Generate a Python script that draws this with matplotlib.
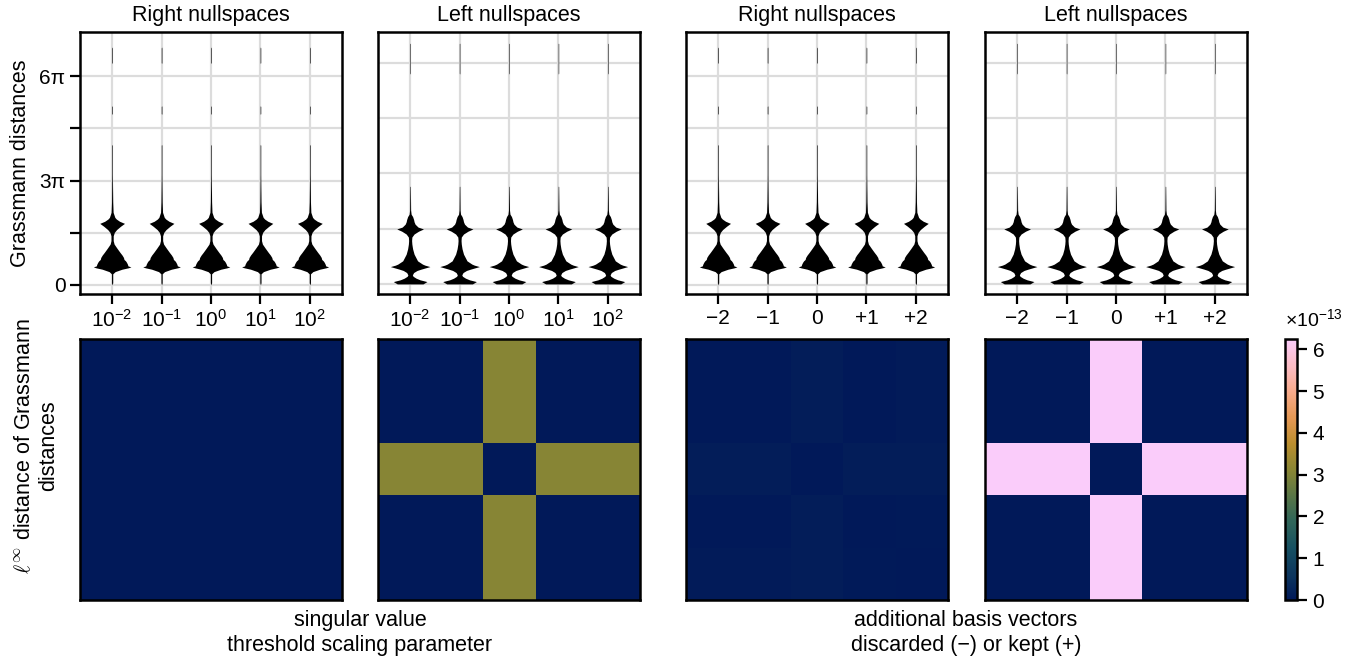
import numpy as np
import matplotlib
matplotlib.use("Agg")
import matplotlib.pyplot as plt
from matplotlib.colors import LinearSegmentedColormap
from matplotlib.ticker import ScalarFormatter
from matplotlib.transforms import ScaledTranslation

plt.rcParams["font.family"] = ["Liberation Sans", "DejaVu Sans"]
plt.rcParams["mathtext.fontset"] = "custom"
plt.rcParams["mathtext.rm"] = "Liberation Sans"
plt.rcParams["mathtext.it"] = "Liberation Sans:italic"
plt.rcParams["mathtext.bf"] = "Liberation Sans:bold"
plt.rcParams["font.size"] = 15

thresh_labels = [r"$10^{-2}$", r"$10^{-1}$", r"$10^{0}$", r"$10^{1}$", r"$10^{2}$"]
basis_labels = ["\u22122", "\u22121", "0", "+1", "+2"]

# violin outlines: distance value -> half width
right_y = [0.0, 0.2, 1.0, 1.2, 1.42, 1.55, 1.63, 1.72, 1.87, 2.05, 2.18, 2.3, 2.48,
           2.7, 2.93, 3.3, 3.69, 4.0, 4.44, 4.75, 5.0, 5.3, 5.56, 5.75, 5.95, 6.1,
           6.56, 7.5, 9.0, 10.0, 12.6, 12.7, 15.4, 15.5, 16.1, 16.2, 20.0, 20.1,
           21.4, 21.5]
right_w = [0.0, 0.012, 0.012, 0.06, 0.2, 0.33, 0.38, 0.32, 0.31, 0.29, 0.27, 0.24,
           0.23, 0.2, 0.16, 0.1, 0.04, 0.022, 0.022, 0.045, 0.09, 0.17, 0.25, 0.15,
           0.085, 0.055, 0.02, 0.012, 0.008, 0.006, 0.006, 0.0, 0.0, 0.006, 0.006,
           0.0, 0.0, 0.006, 0.006, 0.0]

left_y = [0.0, 0.2, 0.35, 0.49, 0.65, 0.77, 0.97, 1.15, 1.26, 1.48, 1.6, 1.69,
          1.97, 2.54, 3.0, 3.4, 3.7, 4.0, 4.26, 4.5, 4.69, 4.85, 5.1, 5.3, 5.5,
          5.75, 5.95, 6.3, 7.5, 8.3, 8.35, 17.9, 18.0, 20.5, 20.55]
left_w = [0.26, 0.34, 0.2, 0.12, 0.06, 0.045, 0.07, 0.14, 0.22, 0.4, 0.3, 0.25,
          0.15, 0.08, 0.05, 0.035, 0.03, 0.035, 0.08, 0.17, 0.27, 0.16, 0.1, 0.08,
          0.07, 0.05, 0.02, 0.01, 0.007, 0.005, 0.0, 0.0, 0.005, 0.005, 0.0]

# l-inf distances between the runs, in units of 1e-13
hm_right_thresh = [[0.02, 0.01, 0.01, 0.01, 0.01],
                   [0.01, 0.00, 0.01, 0.02, 0.01],
                   [0.01, 0.01, 0.00, 0.01, 0.01],
                   [0.01, 0.02, 0.01, 0.00, 0.01],
                   [0.01, 0.01, 0.01, 0.01, 0.00]]
hm_left_thresh = [[0.0, 0.0, 3.1, 0.0, 0.0],
                  [0.0, 0.0, 3.1, 0.0, 0.0],
                  [3.1, 3.1, 0.0, 3.1, 3.1],
                  [0.0, 0.0, 3.1, 0.0, 0.0],
                  [0.0, 0.0, 3.1, 0.0, 0.0]]
hm_right_basis = [[0.00, 0.005, 0.12, 0.01, 0.05],
                  [0.005, 0.00, 0.12, 0.01, 0.05],
                  [0.12, 0.12, 0.00, 0.12, 0.12],
                  [0.01, 0.01, 0.12, 0.00, 0.04],
                  [0.05, 0.05, 0.12, 0.04, 0.00]]
hm_left_basis = [[0.0, 0.0, 6.25, 0.0, 0.0],
                 [0.0, 0.0, 6.25, 0.0, 0.0],
                 [6.25, 6.25, 0.0, 6.25, 6.25],
                 [0.0, 0.0, 6.25, 0.0, 0.0],
                 [0.0, 0.0, 6.25, 0.0, 0.0]]
hm_scale = 1e-13
hm_vmax = 6.25e-13

batlow = LinearSegmentedColormap.from_list("batlow", [
    "#011959", "#0E385E", "#175162", "#30665A", "#5A7646", "#8A8634",
    "#BB8E2E", "#E59855", "#F8AB8C", "#FCBDC6", "#FACCFA"])

W, H = 1367, 663
fig = plt.figure(figsize=(W / 100, H / 100), dpi=100)

lefts = [80, 378, 686, 985]
top_axes = [fig.add_axes([l / W, (H - 294) / H, 262 / W, 262 / H]) for l in lefts]
bot_axes = [fig.add_axes([l / W, (H - 600) / H, 262 / W, 261 / H]) for l in lefts]
cax = fig.add_axes([1285 / W, (H - 600) / H, 12 / W, 261 / H])

titles = ["Right nullspaces", "Left nullspaces", "Right nullspaces", "Left nullspaces"]
profiles = [(right_y, right_w), (left_y, left_w), (right_y, right_w), (left_y, left_w)]
ylims = [(-0.82, 22.85), (-0.86, 21.5), (-0.82, 22.85), (-0.86, 21.5)]
xlabels = [thresh_labels, thresh_labels, basis_labels, basis_labels]
grid_c = "#dcdcdc"

for i, ax in enumerate(top_axes):
    py, pw = profiles[i]
    py = np.array(py)
    pw = np.array(pw)
    for k in range(5):
        x = k + 1
        ax.fill_betweenx(py, x - pw, x + pw, color="black", lw=0, zorder=3)
    ax.set_xlim(0.35, 5.65)
    ax.set_ylim(*ylims[i])
    ax.set_xticks(range(1, 6))
    ax.set_xticklabels(xlabels[i])
    ax.set_yticks([0, 3 * np.pi, 6 * np.pi])
    ax.set_yticks([1.5 * np.pi, 4.5 * np.pi], minor=True)
    ax.grid(True, which="both", color=grid_c, lw=1.6, zorder=0)
    ax.set_axisbelow(True)
    ax.set_title(titles[i], fontsize=15.5, pad=8)
    for s in ax.spines.values():
        s.set_linewidth(1.8)
    ax.tick_params(axis="x", length=7.5, width=1.6, pad=3, labelsize=15)
    if i == 0:
        ax.set_yticklabels(["0", "3\u03c0", "6\u03c0"])
        ax.tick_params(axis="y", which="both", length=7.5, width=1.6, pad=3,
                       labelsize=15)
        ax.set_ylabel("Grassmann distances", fontsize=15.5, labelpad=6)
    else:
        ax.tick_params(axis="y", which="both", left=False, labelleft=False)

mats = [hm_right_thresh, hm_left_thresh, hm_right_basis, hm_left_basis]
for ax, m in zip(bot_axes, mats):
    im = ax.imshow(np.array(m) * hm_scale, cmap=batlow, vmin=0, vmax=hm_vmax,
                   aspect="auto", interpolation="nearest")
    ax.set_xticks([])
    ax.set_yticks([])
    for s in ax.spines.values():
        s.set_linewidth(1.8)

cb = fig.colorbar(im, cax=cax)
cb.ax.yaxis.set_major_formatter(ScalarFormatter(useMathText=True))
cb.set_ticks([k * 1e-13 for k in range(7)])
cb.ax.tick_params(length=7.5, width=1.6, labelsize=15, pad=3)
cb.ax.yaxis.set_offset_position("left")
off = cb.ax.yaxis.get_offset_text()
off.set_fontsize(14)
off.set_transform(off.get_transform() + ScaledTranslation(0, 6 / 72, fig.dpi_scale_trans))
cb.outline.set_linewidth(1.8)

fig.text(37 / W, (H - 446) / H, "$\\ell^{\\infty}$ distance of Grassmann\ndistances",
         rotation=90, ha="center", va="center", fontsize=15.5, math_fontfamily="cm")
fig.text(360 / W, (H - 633) / H, "singular value\nthreshold scaling parameter",
         ha="center", va="center", fontsize=15.5)
fig.text(966 / W, (H - 633) / H, "additional basis vectors\ndiscarded (\u2212) or kept (+)",
         ha="center", va="center", fontsize=15.5)

fig.savefig("out.png", dpi=100)
